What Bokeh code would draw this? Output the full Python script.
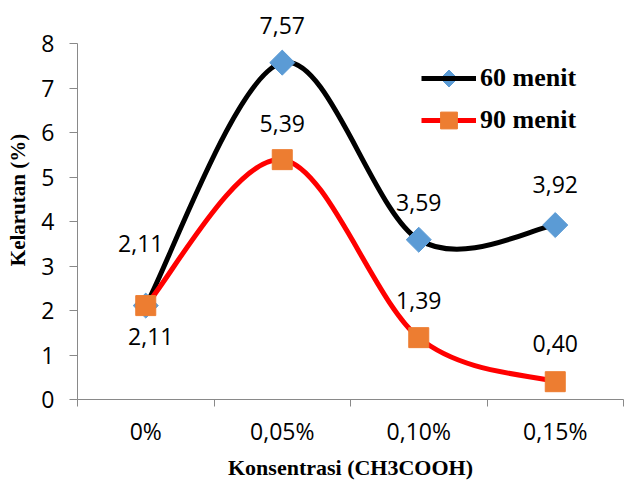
from bokeh.plotting import figure
from bokeh.models import (FixedTicker, Legend, LegendItem, ColumnDataSource,
                          Range1d, Label, PolyAnnotation)
from bokeh.embed import file_html
from bokeh.resources import INLINE
import math

# ---------------- data ----------------
categories = ["0%", "0,05%", "0,10%", "0,15%"]
menit60 = [2.11, 7.57, 3.59, 3.92]
menit90 = [2.11, 5.39, 1.39, 0.40]
y_ticks = [0, 1, 2, 3, 4, 5, 6, 7, 8]
series_names = ["60 menit", "90 menit"]
x_title = "Konsentrasi (CH3COOH)"
y_title = "Kelarutan (%)"

# label placement (style, screen px)
off60_x = [-5, 0, 0, 0]
off60_y = [62, 37, 37, 41]
off90_x = [5, 0, 0, 0]
off90_y = [-31, 36, 37, 38]

AXIS = "#898989"
FONT = "Open Sans"
BLUE = "#5B9BD5"
ORANGE = "#ED7D31"

# layout (px)
W, H = 625, 481
LEFT, RIGHT, BOTTOM = 77, 2, 82
AXIS_TOP = 43                      # screen y of the top tick (8)
PX_PER_UNIT = (H - BOTTOM - AXIS_TOP) / (y_ticks[-1] - y_ticks[0])

xs = list(range(len(categories)))


def bezier_source(ys):
    """Excel-like smoothed line: Catmull-Rom tangents as cubic Bezier segments."""
    n = len(ys)
    d = dict(x0=[], y0=[], x1=[], y1=[], cx0=[], cy0=[], cx1=[], cy1=[])
    for i in range(n - 1):
        xa, ya = (xs[i - 1], ys[i - 1]) if i > 0 else (xs[i], ys[i])
        xb, yb = xs[i], ys[i]
        xc, yc = xs[i + 1], ys[i + 1]
        xd, yd = (xs[i + 2], ys[i + 2]) if i + 2 < n else (xs[i + 1], ys[i + 1])
        d["x0"].append(xb); d["y0"].append(yb)
        d["x1"].append(xc); d["y1"].append(yc)
        d["cx0"].append(xb + (xc - xa) / 6.0); d["cy0"].append(yb + (yc - ya) / 6.0)
        d["cx1"].append(xc - (xd - xb) / 6.0); d["cy1"].append(yc - (yd - yb) / 6.0)
    return ColumnDataSource(d)


def fmt(v):
    return f"{v:.2f}".replace(".", ",")


# frame reaches the top of the canvas so that the data labels above 8 are not clipped
p = figure(width=W, height=H,
           x_range=Range1d(-0.5, len(categories) - 0.5),
           y_range=Range1d(y_ticks[0], y_ticks[-1] + AXIS_TOP / PX_PER_UNIT),
           output_backend="svg", toolbar_location=None,
           min_border_left=LEFT, min_border_right=RIGHT,
           min_border_top=0, min_border_bottom=BOTTOM)
p.outline_line_color = None
p.xgrid.visible = False
p.ygrid.visible = False
p.background_fill_color = "white"
p.border_fill_color = "white"

# ---------------- axes ----------------
p.xaxis.ticker = FixedTicker(ticks=xs, minor_ticks=[-0.5, 0.5, 1.5, 2.5, 3.5])
p.xaxis.major_label_overrides = {i: c for i, c in enumerate(categories)}
p.xaxis.major_tick_line_color = None
p.xaxis.major_tick_out = 0
p.xaxis.major_tick_in = 0
p.xaxis.minor_tick_line_color = AXIS
p.xaxis.minor_tick_out = 7
p.xaxis.minor_tick_in = 0
p.xaxis.axis_line_color = AXIS
p.xaxis.major_label_text_font = FONT
p.xaxis.major_label_text_font_size = "23px"
p.xaxis.major_label_text_color = "black"
p.xaxis.major_label_standoff = 8

p.yaxis.bounds = (y_ticks[0], y_ticks[-1])
p.yaxis.ticker = FixedTicker(ticks=y_ticks)
p.yaxis.major_tick_line_color = AXIS
p.yaxis.major_tick_out = 8
p.yaxis.major_tick_in = 0
p.yaxis.minor_tick_line_color = None
p.yaxis.axis_line_color = AXIS
p.yaxis.major_label_text_font = FONT
p.yaxis.major_label_text_font_size = "23px"
p.yaxis.major_label_text_color = "black"
p.yaxis.major_label_standoff = 15
p.yaxis.axis_label = y_title
p.yaxis.axis_label_text_font = "Liberation Serif"
p.yaxis.axis_label_text_font_style = "bold"
p.yaxis.axis_label_text_font_size = "21px"
p.yaxis.axis_label_text_color = "black"
p.yaxis.axis_label_standoff = 8

# x-axis title placed in the bottom panel
p.add_layout(Label(x=(xs[0] + xs[-1]) / 2, y=y_ticks[0], y_offset=-68, text=x_title,
                   text_align="center", text_baseline="middle",
                   text_font="Liberation Serif", text_font_style="bold",
                   text_font_size="22px", text_color="black"), "below")

# ---------------- series ----------------
b60 = p.bezier(x0="x0", y0="y0", x1="x1", y1="y1", cx0="cx0", cy0="cy0",
               cx1="cx1", cy1="cy1", source=bezier_source(menit60),
               line_color="black", line_width=5)
s60 = p.scatter(xs, menit60, marker="square", size=17.7, angle=math.pi / 4,
                fill_color=BLUE, line_color=BLUE)
b90 = p.bezier(x0="x0", y0="y0", x1="x1", y1="y1", cx0="cx0", cy0="cy0",
               cx1="cx1", cy1="cy1", source=bezier_source(menit90),
               line_color="#FF0000", line_width=5)
s90 = p.scatter(xs, menit90, marker="square", size=20,
                fill_color=ORANGE, line_color=ORANGE)

# ---------------- data labels ----------------
for ys, ox, oy in ((menit60, off60_x, off60_y), (menit90, off90_x, off90_y)):
    for i in range(len(xs)):
        p.add_layout(Label(x=xs[i], y=ys[i], text=fmt(ys[i]),
                           x_offset=ox[i], y_offset=oy[i],
                           text_align="center", text_baseline="middle",
                           text_font=FONT, text_font_size="23px",
                           text_color="black"))

# ---------------- legend ----------------
LEG_X, LEG_Y, GH = 344, 258, 42      # legend position inside the frame (px)
legend = Legend(items=[LegendItem(label=series_names[0], renderers=[b60]),
                       LegendItem(label=series_names[1], renderers=[b90, s90])],
                location=(LEG_X, LEG_Y), orientation="vertical",
                glyph_width=55, glyph_height=GH, label_standoff=4,
                spacing=0, padding=0, margin=0,
                border_line_color=None, background_fill_alpha=0,
                label_text_font="Liberation Serif", label_text_font_style="bold",
                label_text_font_size="26px", label_text_color="black")
p.add_layout(legend)

# diamond key for the first legend entry (frame px, y measured upward)
cx, cy, r = LEG_X + 27.5, LEG_Y + GH + GH / 2, 8.5
p.add_layout(PolyAnnotation(xs=[cx, cx + r, cx, cx - r], ys=[cy + r, cy, cy - r, cy],
                            xs_units="screen", ys_units="screen",
                            fill_color=BLUE, fill_alpha=1.0, line_color=BLUE,
                            line_alpha=1.0, line_width=1))

open("out.html", "w").write(file_html(p, INLINE))
